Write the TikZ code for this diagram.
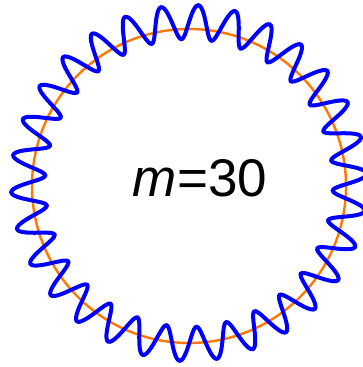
\documentclass[tikz,border=0pt]{standalone}
\usepackage{fontspec}
\setmainfont{Liberation Sans}
\usetikzlibrary{positioning}

\begin{document}
\begin{tikzpicture}[x=1pt,y=1pt]
  \useasboundingbox (0,0) rectangle (362,367);
  \coordinate (c) at (189,181);
  \draw[orange!95!red,line width=2.4pt] (c) circle[radius=157];
  \begin{scope}[shift={(189,184)}]
    \draw[blue,line width=4pt,smooth,samples=721,domain=0:360,variable=\t]
      plot ({\t}:{161+17*cos(30*(\t-87))}) -- cycle;
  \end{scope}
  \node[anchor=base,font=\fontsize{53}{60}\selectfont,inner sep=0pt] (lbl) at (200,170) {\textit{m}=30};
\end{tikzpicture}
\end{document}
